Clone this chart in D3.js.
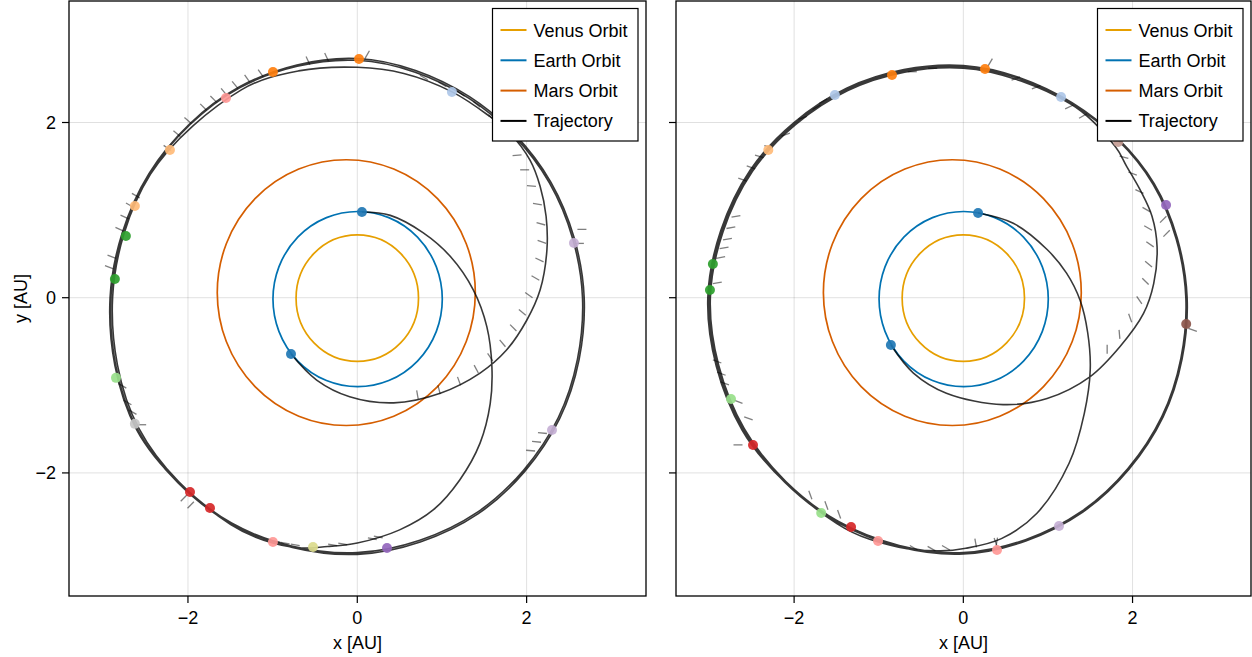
<!DOCTYPE html>
<html><head><meta charset="utf-8">
<script src="https://cdn.jsdelivr.net/npm/d3@7"></script>
<style>body{margin:0;background:#fff}svg{display:block}text{font-family:"Liberation Sans",Arial,Helvetica,sans-serif}</style>
</head><body>
<svg id="c" width="1252" height="657"></svg>
<script>
// ---------------- data ----------------
const tickValues = [-2, 0, 2];
const tickLabels = ["\u22122", "0", "2"];
const xAxisLabel = "x [AU]";
const yAxisLabel = "y [AU]";
const legendLabels = ["Venus Orbit", "Earth Orbit", "Mars Orbit", "Trajectory"];

// planet orbits (AU): centre and semi-axes
const orbitNames = ["Venus", "Earth", "Mars"];
const orbitCx = [0.0, 0.004, -0.13];
const orbitCy = [-0.005, -0.016, 0.058];
const orbitRx = [0.723, 1.0, 1.524];
const orbitRy = [0.722, 1.0, 1.517];

// trajectory points (AU), left panel
const leftTrajectory = [
 [-0.783,-0.643],[-0.48,-0.94],[-0.09,-1.13],[0.43,-1.20],[0.98,-1.09],[1.45,-0.86],[1.76,-0.60],[2.00,-0.26],[2.16,0.09],[2.24,0.55],[2.23,0.93],[2.16,1.27],[2.04,1.57],[1.80,1.88],[1.55,2.08],[1.12,2.35],[0.55,2.56],[0.00,2.63],[-0.694,2.589],
 [-1.37,2.373],[-2.442,1.41],[-2.89,0.0],[-2.581,-1.49],[-1.485,-2.572],[0.0,-2.91],[1.415,-2.451],[2.373,-1.37],[2.66,0.0],[2.269,1.31],[1.315,2.278],[0.0,2.71],
 [-1.385,2.399],[-2.451,1.415],[-2.91,0.0],[-2.598,-1.50],[-1.49,-2.581],[0.0,-2.93],[1.425,-2.468],[2.39,-1.38],[2.68,0.0],[2.286,1.32],[1.325,2.295],[0.0,2.73],
 [-1.39,2.408],[-2.459,1.42],[-2.92,0.0],[-2.607,-1.505],[-1.495,-2.589],[-0.763,-2.849],
 [-0.35,-2.84],[0.0,-2.80],[0.50,-2.65],[0.90,-2.42],[1.21,-2.08],[1.45,-1.66],[1.57,-1.21],[1.59,-0.79],[1.53,-0.33],[1.37,0.09],[1.10,0.47],[0.78,0.74],[0.39,0.94],[0.055,0.978]
];
// trajectory points (AU), right panel
const rightTrajectory = [
 [-0.856,-0.54],[-0.59,-0.86],[-0.20,-1.09],[0.47,-1.22],[0.99,-1.15],[1.50,-0.90],[1.85,-0.56],[2.13,-0.18],[2.25,0.16],[2.29,0.58],[2.23,0.93],[2.09,1.23],[1.93,1.50],[1.80,1.72],
 [1.275,2.208],[0.0,2.62],[-1.365,2.364],[-2.494,1.44],[-2.99,0.0],[-2.589,-1.495],[-1.475,-2.555],[0.0,-2.91],[1.405,-2.434],[2.347,-1.355],[2.63,0.0],[2.243,1.295],
 [1.28,2.217],[0.0,2.635],[-1.3725,2.377],[-2.507,1.4475],[-3.005,0.0],[-2.602,-1.5025],[-1.4825,-2.568],[0.0,-2.925],[1.4125,-2.446],[2.36,-1.3625],[2.645,0.0],[2.256,1.3025],
 [1.285,2.226],[0.0,2.65],[-1.38,2.39],[-2.52,1.455],[-3.02,0.0],[-2.615,-1.51],[-1.49,-2.581],[-0.763,-2.849],
 [-0.27,-2.89],[0.03,-2.86],[0.45,-2.75],[0.87,-2.46],[1.25,-1.89],[1.43,-1.32],[1.50,-0.82],[1.47,-0.40],[1.38,-0.03],[1.22,0.28],[0.99,0.55],[0.59,0.85],[0.174,0.967]
];

// events: x, y, colour index (tab20)
const leftEvents = [
 [0.055,0.978,0],[-0.783,-0.643,0],[1.118,2.348,1],[0.02,2.725,2],[-0.996,2.576,2],[-1.551,2.28,7],[-2.213,1.686,3],[-2.627,1.047,3],[-2.733,0.704,4],[-2.863,0.213,4],[-2.85,-0.915,5],[-2.627,-1.44,15],[-1.976,-2.218,6],[-1.74,-2.40,6],[-0.996,-2.789,7],[-0.523,-2.846,17],[0.351,-2.857,8],[2.30,-1.51,9],[2.559,0.624,9]
];
const rightEvents = [
 [0.174,0.967,0],[-0.856,-0.54,0],[0.256,2.61,2],[-0.843,2.542,2],[-1.518,2.313,1],[1.155,2.291,1],[-2.305,1.686,3],[-2.96,0.385,4],[-2.995,0.088,4],[1.83,1.778,11],[2.396,1.058,8],[2.634,-0.30,10],[-2.746,-1.157,5],[-1.68,-2.458,5],[-2.486,-1.682,6],[-1.327,-2.618,6],[-1.008,-2.778,7],[0.398,-2.88,7],[1.131,-2.606,9]
];

// thrust direction marks: x, y, direction (degrees)
const leftThrust = [
 [0.72,-1.16,100],[0.98,-1.10,105],[1.22,-1.00,110],[1.43,-0.86,118],[1.60,-0.72,125],[1.75,-0.56,130],[1.88,-0.38,135],[1.99,-0.20,140],[2.07,0.00,145],[2.15,0.20,150],[2.20,0.41,155],[2.23,0.62,160],[2.22,0.83,165],[2.18,1.06,170],[2.11,1.27,175],[2.03,1.46,180],[1.94,1.63,185],
 [0.74,2.54,330],[0.96,2.46,330],[1.18,2.36,325],[1.37,2.24,320],[1.55,2.09,315],
 [0.09,2.73,60],[-0.34,2.70,115],[-0.56,2.66,115],[-1.11,2.52,125],[-1.27,2.46,125],[-1.41,2.39,130],[-1.54,2.31,130],[-1.66,2.23,135],[-1.78,2.14,135],[-1.96,1.99,140],[-2.09,1.84,140],[-2.20,1.68,145],[-2.57,1.14,150],[-2.64,1.03,150],[-2.70,0.90,155],[-2.76,0.76,155],[-2.85,0.45,160],[-2.88,0.33,160],
 [-2.82,-0.98,330],[-2.76,-1.17,330],[-2.70,-1.28,330],[-2.60,-1.45,0],[-2.01,-2.25,225],[-1.93,-2.33,225],
 [-0.91,-2.79,170],[-0.80,-2.81,170],[-0.68,-2.83,170],[-0.24,-2.83,170],[-0.12,-2.82,170],[0.23,-2.76,170],[0.30,-2.74,170],
 [2.24,-1.55,175],[2.17,-1.65,175],[2.10,-1.75,175],
 [2.60,0.78,0],[2.57,0.62,0]
];
const rightThrust = [
 [1.70,-0.64,90],[1.85,-0.47,95],[1.99,-0.28,110],[2.11,-0.07,125],[2.19,0.15,135],[2.23,0.35,140],[2.25,0.58,145],[2.23,0.77,150],[2.21,0.98,150],[2.13,1.19,155],[2.05,1.40,160],[1.95,1.59,165],
 [2.40,0.93,225],[2.44,0.77,225],[2.66,-0.35,340],
 [0.29,2.64,60],[0.67,2.52,200],[0.91,2.42,200],[1.30,2.20,205],[1.46,2.10,210],
 [-0.31,2.62,180],[-0.55,2.58,180],[-1.61,2.27,210],[-1.69,2.20,210],[-1.85,2.07,200],[-2.05,1.88,200],[-2.25,1.71,165],[-2.36,1.60,165],[-2.46,1.47,160],[-2.56,1.33,160],
 [-2.74,0.92,10],[-2.80,0.79,10],[-2.84,0.66,10],[-2.88,0.56,10],[-2.92,0.45,10],[-2.96,0.16,10],
 [-2.96,-0.71,340],[-2.91,-0.85,340],[-2.87,-0.96,340],[-2.71,-1.17,340],[-2.59,-1.36,340],[-2.61,-1.68,180],
 [-1.79,-2.30,110],[-1.60,-2.42,110],[-1.45,-2.52,110],
 [-0.54,-2.88,150],[-0.33,-2.89,150],[-0.16,-2.88,150],[0.155,-2.85,100],[0.386,-2.84,80],[0.40,-2.84,110]
];

// ---------------- styles ----------------
const orbitColors = ["#e69f00", "#0072b2", "#d55e00"];
const trajColor = "#000";
const tab20 = ["#1f77b4","#aec7e8","#ff7f0e","#ffbb78","#2ca02c","#98df8a","#d62728","#ff9896","#9467bd","#c5b0d5","#8c564b","#c49c94","#e377c2","#f7b6d2","#7f7f7f","#c7c7c7","#bcbd22","#dbdb8d","#17becf","#9edae5"];

const svg = d3.select("#c");
const FONT = 18;

function panel(opt) {
  const x = d3.scaleLinear().domain(opt.xDomain).range([opt.x0, opt.x1]);
  const y = d3.scaleLinear().domain(opt.yDomain).range([opt.y1, opt.y0]);
  const g = svg.append("g");

  const clipId = "clip" + opt.id;
  g.append("clipPath").attr("id", clipId).append("rect")
    .attr("x", opt.x0).attr("y", opt.y0).attr("width", opt.x1 - opt.x0).attr("height", opt.y1 - opt.y0);

  // grid
  const grid = g.append("g").attr("stroke", "rgba(0,0,0,0.12)").attr("stroke-width", 1);
  tickValues.forEach(v => {
    grid.append("line").attr("x1", x(v)).attr("x2", x(v)).attr("y1", opt.y0).attr("y2", opt.y1);
    grid.append("line").attr("y1", y(v)).attr("y2", y(v)).attr("x1", opt.x0).attr("x2", opt.x1);
  });

  const plot = g.append("g").attr("clip-path", `url(#${clipId})`);

  // orbits
  orbitNames.forEach((n, i) => {
    plot.append("ellipse")
      .attr("cx", x(orbitCx[i])).attr("cy", y(orbitCy[i]))
      .attr("rx", x(orbitRx[i]) - x(0)).attr("ry", y(0) - y(orbitRy[i]))
      .attr("fill", "none").attr("stroke", orbitColors[i]).attr("stroke-width", 1.7);
  });

  // trajectory
  const line = d3.line().x(d => x(d[0])).y(d => y(d[1])).curve(d3.curveCatmullRom.alpha(0.5));
  plot.append("path").attr("d", line(opt.traj))
    .attr("fill", "none").attr("stroke", trajColor).attr("stroke-opacity", 0.78).attr("stroke-width", 1.6);

  // thrust marks
  const L = 9;
  plot.append("g").selectAll("line").data(opt.thrust).join("line")
    .attr("x1", d => x(d[0])).attr("y1", d => y(d[1]))
    .attr("x2", d => x(d[0]) + L * Math.cos(d[2] * Math.PI / 180))
    .attr("y2", d => y(d[1]) - L * Math.sin(d[2] * Math.PI / 180))
    .attr("stroke", "#000").attr("stroke-opacity", 0.5).attr("stroke-width", 1.3);

  // events
  plot.append("g").selectAll("circle").data(opt.events).join("circle")
    .attr("cx", d => x(d[0])).attr("cy", d => y(d[1])).attr("r", 5)
    .attr("fill", d => tab20[d[2]]).attr("fill-opacity", 0.92);

  // frame
  g.append("rect").attr("x", opt.x0).attr("y", opt.y0).attr("width", opt.x1 - opt.x0).attr("height", opt.y1 - opt.y0)
    .attr("fill", "none").attr("stroke", "#000").attr("stroke-width", 1.3);

  // ticks
  const tk = g.append("g").attr("stroke", "#000").attr("stroke-width", 1.2);
  tickValues.forEach(v => {
    tk.append("line").attr("x1", x(v)).attr("x2", x(v)).attr("y1", opt.y1).attr("y2", opt.y1 + 7);
    tk.append("line").attr("y1", y(v)).attr("y2", y(v)).attr("x1", opt.x0).attr("x2", opt.x0 - 7);
  });
  tickValues.forEach((v, i) => {
    g.append("text").attr("x", x(v)).attr("y", 624).attr("text-anchor", "middle")
      .attr("font-size", FONT).attr("fill", "#000").text(tickLabels[i]);
    if (opt.yLabels) {
      g.append("text").attr("x", opt.x0 - 13).attr("y", y(v) + 6.5).attr("text-anchor", "end")
        .attr("font-size", FONT).attr("fill", "#000").text(tickLabels[i]);
    }
  });
  g.append("text").attr("x", (opt.x0 + opt.x1) / 2).attr("y", 648.5).attr("text-anchor", "middle")
    .attr("font-size", FONT).attr("fill", "#000").text(xAxisLabel);
  if (opt.yLabels) {
    g.append("text").attr("transform", `translate(26.5,${(opt.y0 + opt.y1) / 2}) rotate(-90)`)
      .attr("text-anchor", "middle").attr("font-size", FONT).attr("fill", "#000").text(yAxisLabel);
  }

  // legend
  const lg = g.append("g");
  const lx = opt.x1 - 153.5, ly = 8.5;
  lg.append("rect").attr("x", lx).attr("y", ly).attr("width", 145.5).attr("height", 132.5)
    .attr("fill", "#fff").attr("stroke", "#000").attr("stroke-width", 1.2);
  const legendColors = orbitColors.concat([trajColor]);
  legendLabels.forEach((lab, i) => {
    const cy = 30 + i * 30.3;
    lg.append("line").attr("x1", lx + 8).attr("x2", lx + 34).attr("y1", cy).attr("y2", cy)
      .attr("stroke", legendColors[i]).attr("stroke-width", 2);
    lg.append("text").attr("x", lx + 41).attr("y", cy + 6.5).attr("font-size", FONT).attr("fill", "#000").text(lab);
  });
}

panel({id: "L", x0: 69, x1: 646, y0: 1, y1: 596, xDomain: [-3.405, 3.41], yDomain: [-3.405, 3.387],
  traj: leftTrajectory, events: leftEvents, thrust: leftThrust, yLabels: true});
panel({id: "R", x0: 676, x1: 1251, y0: 1, y1: 596, xDomain: [-3.396, 3.40], yDomain: [-3.405, 3.387],
  traj: rightTrajectory, events: rightEvents, thrust: rightThrust, yLabels: false});
</script>
</body></html>
